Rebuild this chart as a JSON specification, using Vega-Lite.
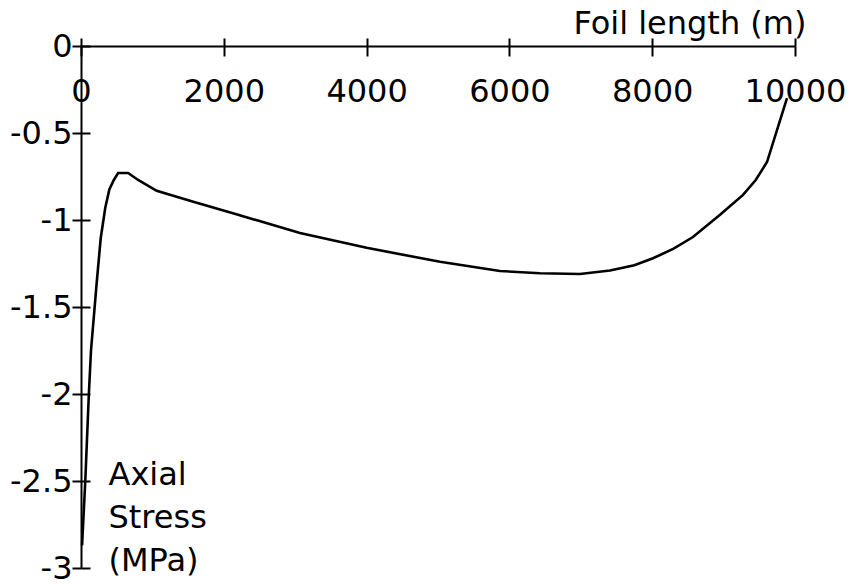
{
  "$schema": "https://vega.github.io/schema/vega-lite/v6.json",
  "width": 714,
  "height": 522,
  "autosize": "none",
  "padding": {"left": 81, "top": 46, "right": 66, "bottom": 17},
  "background": "white",
  "config": {
    "view": {"stroke": null},
    "font": "DejaVu Sans",
    "axis": {
      "grid": false,
      "domainColor": "black",
      "tickColor": "black",
      "labelColor": "black",
      "titleColor": "black",
      "labelFont": "DejaVu Sans",
      "titleFont": "DejaVu Sans",
      "labelFontSize": 32,
      "titleFontSize": 32,
      "titleFontWeight": "normal",
      "domainWidth": 2,
      "tickWidth": 2
    }
  },
  "data": {
    "values": [
      {"length": 15, "stress": -2.87},
      {"length": 60, "stress": -2.5},
      {"length": 110, "stress": -2.0},
      {"length": 140, "stress": -1.75},
      {"length": 220, "stress": -1.36},
      {"length": 276, "stress": -1.105},
      {"length": 340, "stress": -0.93},
      {"length": 397, "stress": -0.824},
      {"length": 460, "stress": -0.77},
      {"length": 520, "stress": -0.73},
      {"length": 660, "stress": -0.73},
      {"length": 800, "stress": -0.77},
      {"length": 1060, "stress": -0.832},
      {"length": 1573, "stress": -0.895},
      {"length": 2200, "stress": -0.97},
      {"length": 3067, "stress": -1.075},
      {"length": 4000, "stress": -1.16},
      {"length": 5028, "stress": -1.24},
      {"length": 5868, "stress": -1.293},
      {"length": 6428, "stress": -1.306},
      {"length": 6989, "stress": -1.31},
      {"length": 7409, "stress": -1.29},
      {"length": 7750, "stress": -1.26},
      {"length": 8011, "stress": -1.22},
      {"length": 8300, "stress": -1.165},
      {"length": 8571, "stress": -1.098},
      {"length": 8950, "stress": -0.97},
      {"length": 9272, "stress": -0.856},
      {"length": 9450, "stress": -0.77},
      {"length": 9608, "stress": -0.667},
      {"length": 9888, "stress": -0.3}
    ]
  },
  "layer": [
    {
      "mark": {"type": "line", "color": "black", "strokeWidth": 2.6},
      "encoding": {
        "x": {
          "field": "length",
          "type": "quantitative",
          "scale": {"domain": [0, 10000], "nice": false},
          "axis": {
            "orient": "bottom",
            "offset": -522,
            "values": [0, 2000, 4000, 6000, 8000, 10000],
            "tickSize": 10,
            "labelPadding": 20,
            "labelDx": 4,
            "labelExpr": "'' + datum.value",
            "labelFlush": false,
            "labelOverlap": false,
            "title": null
          }
        },
        "y": {
          "field": "stress",
          "type": "quantitative",
          "scale": {"domain": [-3, 0], "nice": false},
          "axis": {
            "orient": "left",
            "values": [-3, -2.5, -2, -1.5, -1, -0.5, 0],
            "tickSize": 9,
            "labelPadding": 0,
            "labelExpr": "'' + datum.value",
            "labelFlush": false,
            "labelOverlap": false,
            "title": ["Axial", "Stress", "(MPa)"],
            "titleAngle": 0,
            "titleX": 27,
            "titleY": 413,
            "titleAlign": "left",
            "titleBaseline": "top",
            "titleLineHeight": 43
          }
        }
      }
    },
    {
      "mark": {"type": "line", "strokeOpacity": 0},
      "encoding": {
        "x": {
          "field": "length",
          "type": "quantitative",
          "scale": {"domain": [0, 10000], "nice": false},
          "axis": {
            "orient": "top",
            "values": [0, 2000, 4000, 6000, 8000, 10000],
            "tickSize": 8,
            "labels": false,
            "domain": false,
            "title": "Foil length (m)",
            "titleX": 725,
            "titleY": -13,
            "titleAlign": "right",
            "titleBaseline": "alphabetic"
          }
        },
        "y": {
          "field": "stress",
          "type": "quantitative",
          "scale": {"domain": [-3, 0], "nice": false},
          "axis": {
            "orient": "right",
            "offset": -714,
            "values": [-3, -2.5, -2, -1.5, -1, -0.5, 0],
            "tickSize": 9,
            "labels": false,
            "domain": false,
            "title": null
          }
        }
      }
    }
  ],
  "resolve": {"axis": {"x": "independent", "y": "independent"}}
}
